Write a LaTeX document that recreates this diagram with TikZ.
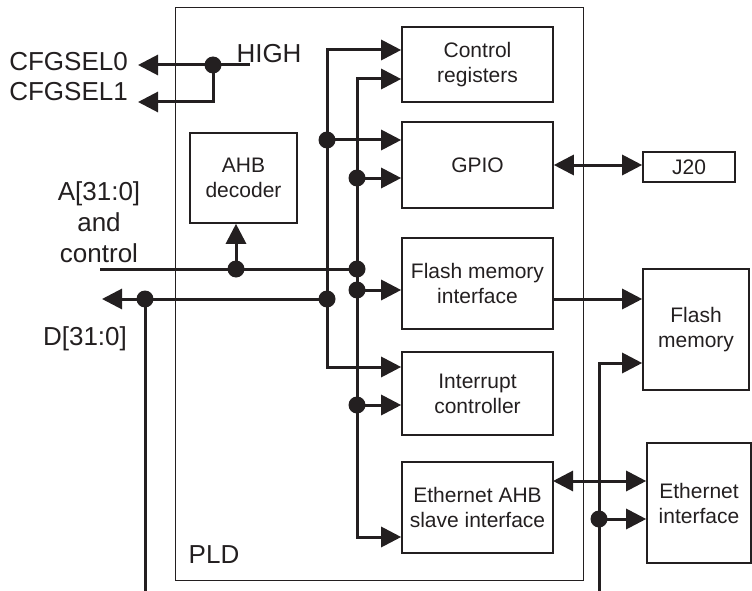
\documentclass[tikz,border=0pt]{standalone}
\usepackage{fontspec}
\setmainfont{Liberation Sans}
\usetikzlibrary{arrows.meta}

\begin{document}
\begin{tikzpicture}[x=1pt, y=-1pt,
    >={Triangle[length=20pt,width=20pt]},
    box/.style={draw=lineColour, line width=1.6pt, inner sep=0pt, align=center,
        text=lineColour, font=\fontsize{21}{25}\selectfont},
    lbl/.style={inner sep=0pt, align=center, text=lineColour,
        font=\fontsize{26}{31}\selectfont},
    bus/.style={draw=lineColour, line width=3pt}]
    % Define colours
    \definecolor{lineColour}{HTML}{231F20}

    % Define dot radius
    \def\dotSize{8.5pt}

    \useasboundingbox (0,0) rectangle (752,591);

    % Draw PLD outline
    \node[box, line width=0.8pt, minimum width=408pt, minimum height=573pt] (pld) at (379,293.5) {};
    \node[lbl] (pldlabel) at (214,555) {PLD};

    % Draw blocks inside the PLD
    \node[box, minimum width=151pt, minimum height=75pt] (ctrl) at (477.5,64.5) {Control\\registers};
    \node[box, minimum width=151pt, minimum height=86pt] (gpio) at (477.5,165) {GPIO};
    \node[box, minimum width=151pt, minimum height=91pt] (fmi) at (477.5,283.5) {Flash memory\\interface};
    \node[box, minimum width=151pt, minimum height=83pt] (intc) at (477.5,393.5) {Interrupt\\controller};
    \node[box, minimum width=151pt, minimum height=91pt] (eth) at (477.5,507.5) {Ethernet AHB\\slave interface};
    \node[box, minimum width=107pt, minimum height=90pt] (ahb) at (243.5,178) {AHB\\decoder};

    % Draw blocks outside the PLD
    \node[box, minimum width=92pt, minimum height=30pt] (j20) at (689,167) {J20};
    \node[box, minimum width=106pt, minimum height=121pt] (flash) at (696,329.5) {Flash\\memory};
    \node[box, minimum width=104pt, minimum height=120pt] (ethif) at (699,503) {Ethernet\\interface};

    % Outside labels
    \node[lbl, anchor=east] (cfg0) at (128,62) {CFGSEL0};
    \node[lbl, anchor=east] (cfg1) at (128,92) {CFGSEL1};
    \node[lbl] (high) at (269,54) {HIGH};
    \node[lbl] (alabel) at (99,222) {A[31:0]\\and\\control};
    \node[lbl] (dlabel) at (85,339) {D[31:0]};

    % Define bus coordinates
    \coordinate (hEnd) at (250,65);
    \coordinate (hDot) at (213,65);
    \coordinate (hLow) at (213,102);
    \coordinate (cfgTip0) at (138,65);
    \coordinate (cfgTip1) at (138,102);
    \coordinate (lTop) at (327,50);
    \coordinate (lGpio) at (327,140);
    \coordinate (lD) at (327,299);
    \coordinate (lBot) at (327,367);
    \coordinate (rTop) at (357,79);
    \coordinate (rGpio) at (357,178);
    \coordinate (rA) at (357,269);
    \coordinate (rFmi) at (357,290);
    \coordinate (rIntc) at (357,405);
    \coordinate (rBot) at (357,537);
    \coordinate (aIn) at (100,269);
    \coordinate (aDec) at (236,269);
    \coordinate (dTip) at (102,299);
    \coordinate (dDot) at (145,299);
    \coordinate (dBot) at (145,591);
    \coordinate (fmOut) at (553,299);
    \coordinate (vTop) at (599,363);
    \coordinate (vEth) at (599,519);
    \coordinate (vBot) at (599,591);
    \coordinate (ethBus) at (553,481);

    % Draw CFGSEL lines
    \draw[bus,->] (hEnd) -- (cfgTip0);
    \draw[bus,->] (hDot) -- (hLow) -- (cfgTip1);

    % Draw the two buses
    \draw[bus,<->] (ctrl.west |- lTop) -- (lTop) -- (lBot) -- (intc.west |- lBot);
    \draw[bus,<->] (ctrl.west |- rTop) -- (rTop) -- (rBot) -- (eth.west |- rBot);
    \draw[bus,->] (lGpio) -- (gpio.west |- lGpio);
    \draw[bus,->] (rGpio) -- (gpio.west |- rGpio);
    \draw[bus,->] (rFmi) -- (fmi.west |- rFmi);
    \draw[bus,->] (rIntc) -- (intc.west |- rIntc);

    % Address and data
    \draw[bus] (aIn) -- (rA);
    \draw[bus,->] (aDec) -- (aDec |- ahb.south);
    \draw[bus,->] (lD) -- (dTip);
    \draw[bus] (dDot) -- (dBot);

    % Connections to the outside blocks
    \draw[bus,<->] (gpio.east) -- (gpio.east -| j20.west);
    \draw[bus,->] (fmOut) -- (flash.west |- fmOut);
    \draw[bus,->] (vBot) -- (vTop) -- (flash.west |- vTop);
    \draw[bus,->] (vEth) -- (ethif.west |- vEth);
    \draw[bus,<->] (ethBus) -- (ethif.west |- ethBus);

    % Draw junction dots
    \foreach \p in {hDot,lGpio,lD,rGpio,rA,rFmi,rIntc,aDec,dDot,vEth}
        \fill[lineColour] (\p) circle (\dotSize);

\end{tikzpicture}
\end{document}
